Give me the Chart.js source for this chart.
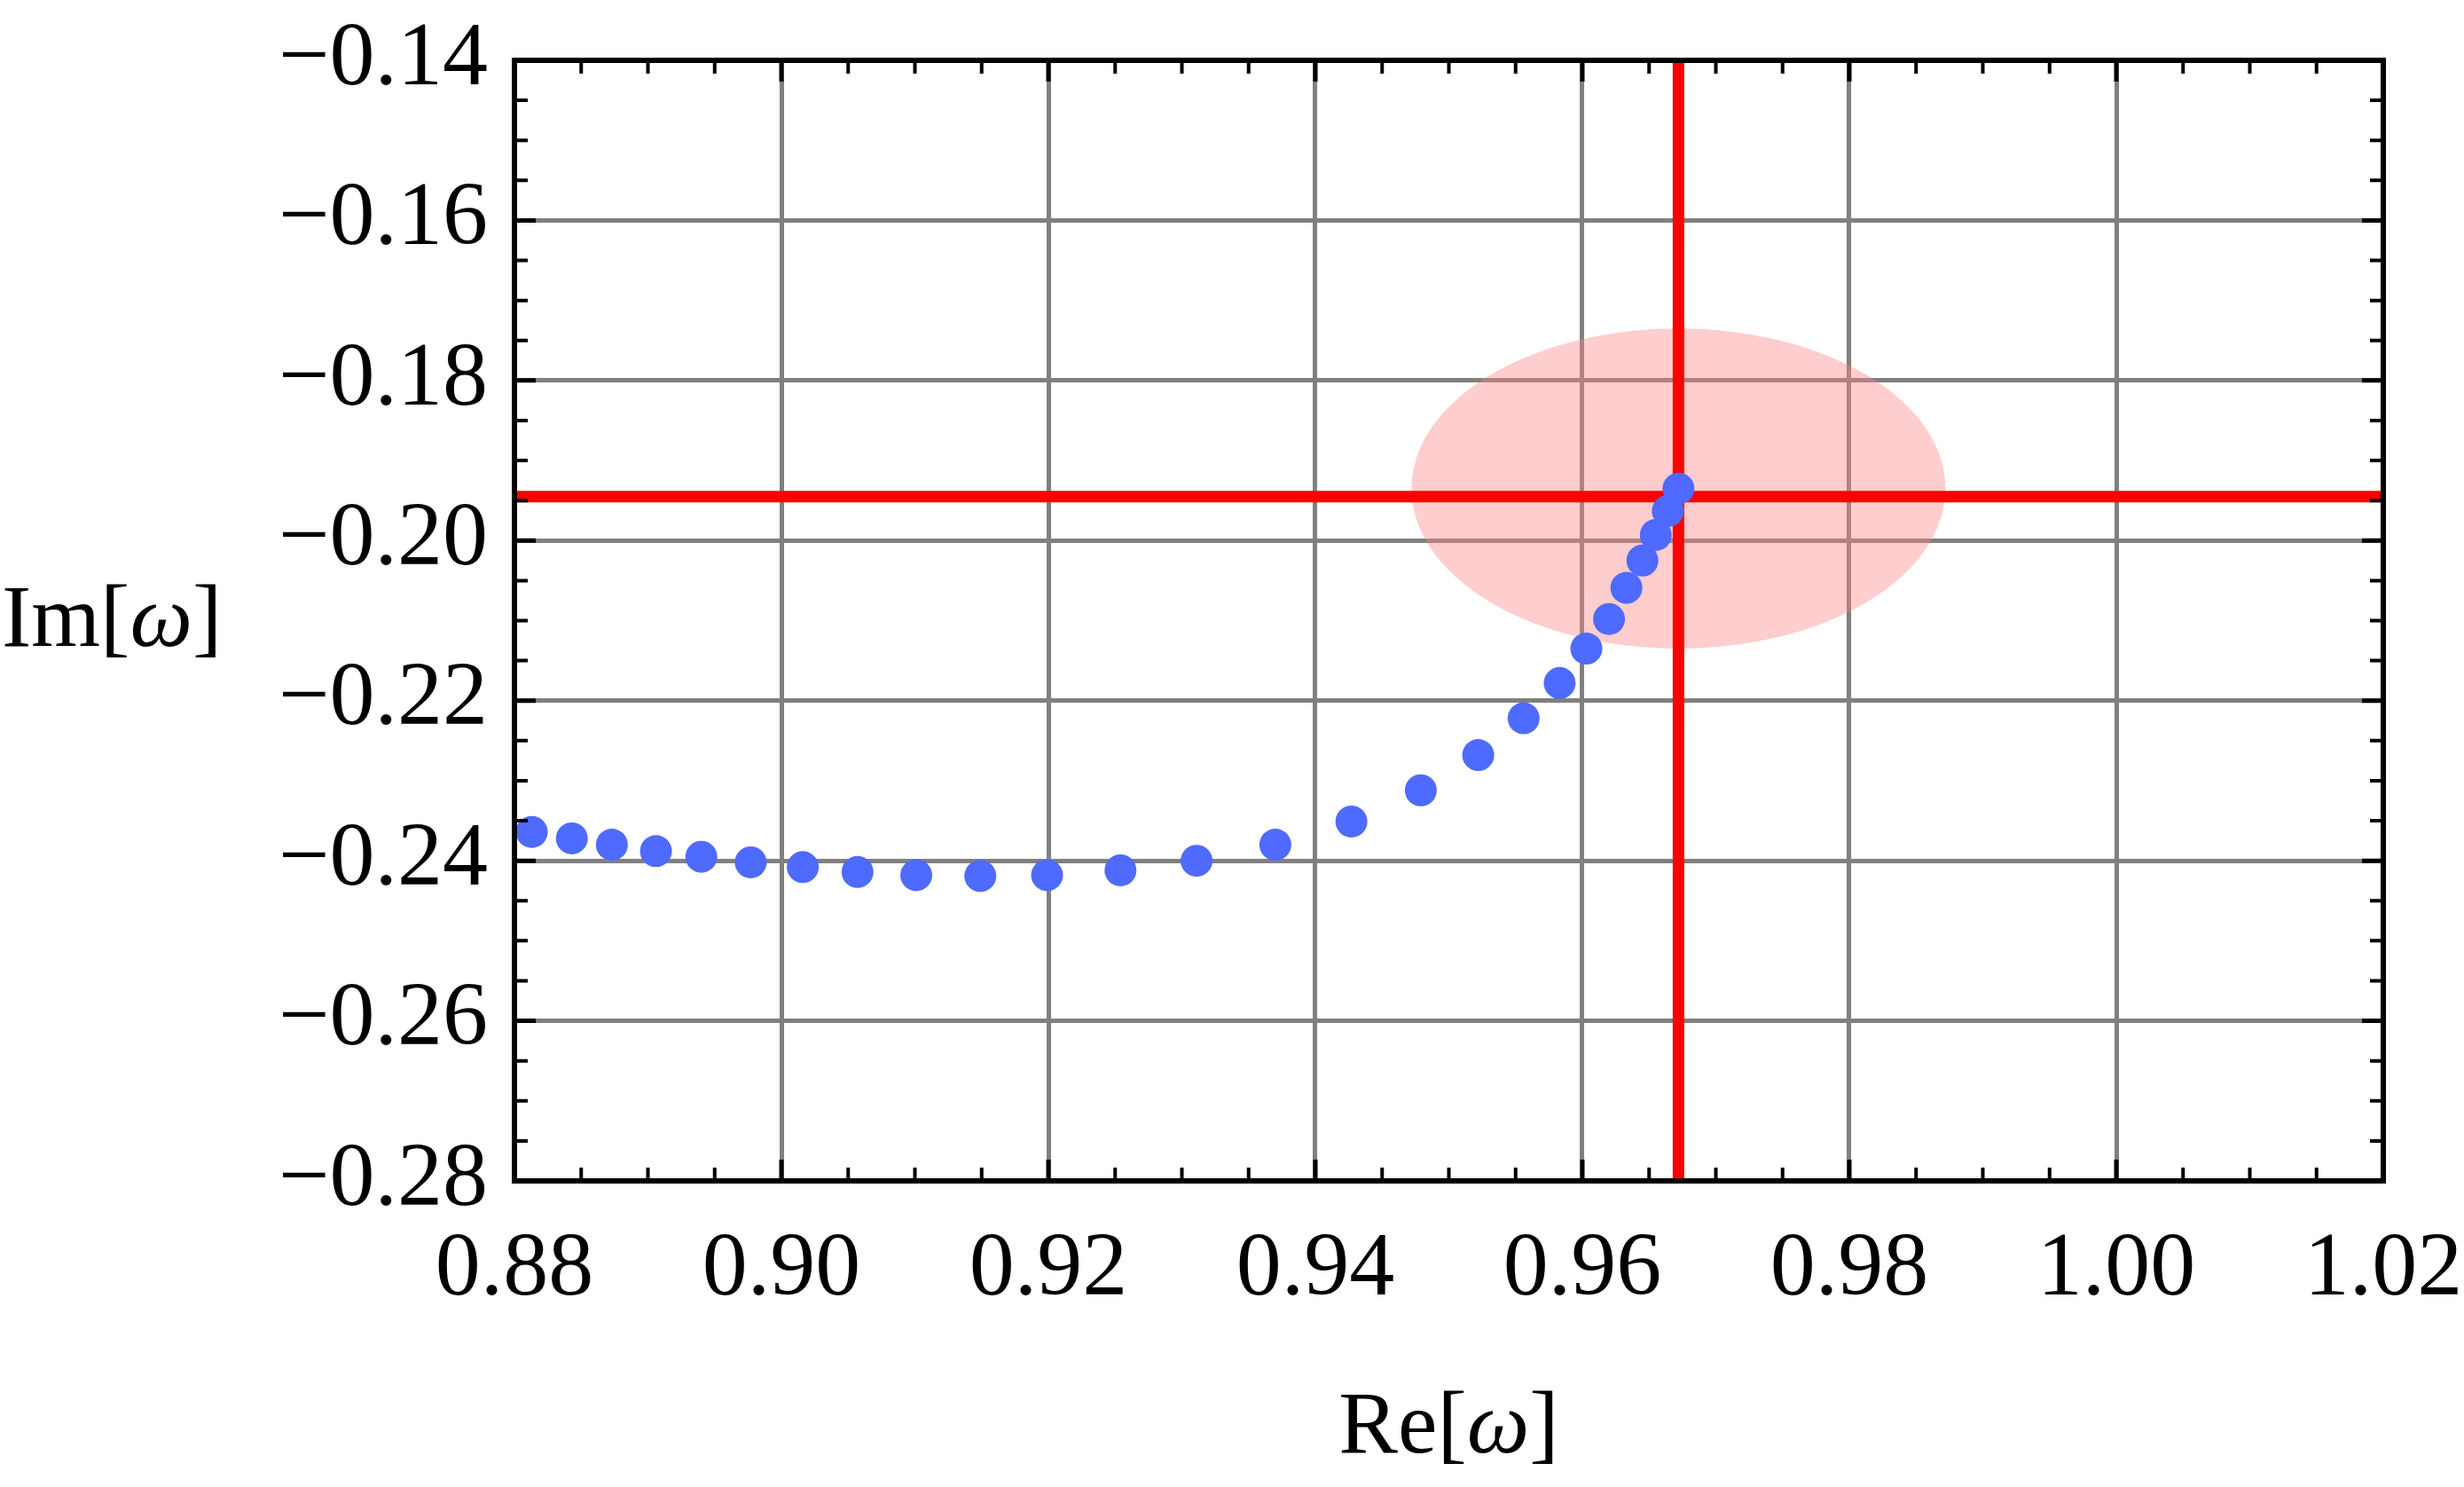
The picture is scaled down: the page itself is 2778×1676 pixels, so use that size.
<!DOCTYPE html>
<html>
<head>
<meta charset="utf-8">
<script src="https://cdn.jsdelivr.net/npm/chart.js@4.4.1/dist/chart.umd.min.js"></script>
<style>
  html, body { margin: 0; padding: 0; background: #fff; }
  canvas { display: block; }
</style>
</head>
<body>
<canvas id="qnmChart" width="2778" height="1676"></canvas>
<script>
// Re / Im of the frequency
const reOmega = [0.8813, 0.8843, 0.8873, 0.8906, 0.8940, 0.8977, 0.9016, 0.9057, 0.9101, 0.9149,
                 0.9199, 0.9254, 0.9311, 0.9370, 0.9427, 0.9479, 0.9522, 0.9556, 0.9583, 0.9603,
                 0.9620, 0.9633, 0.9645, 0.9655, 0.9664, 0.9672];
const imOmega = [-0.2364, -0.2372, -0.2380, -0.2388, -0.2395, -0.2402, -0.2408, -0.2414, -0.2418, -0.2419,
                 -0.2418, -0.2412, -0.2400, -0.2380, -0.2351, -0.2312, -0.2268, -0.2222, -0.2178, -0.2135,
                 -0.2098, -0.2059, -0.2025, -0.1993, -0.1963, -0.1935];

// crosshair and shaded region
const crossRe = 0.9672;
const crossIm = -0.1945;
const regionCenter = [0.9672, -0.1935];
const regionRadius = [0.02, 0.02];

const xTicks = [0.88, 0.90, 0.92, 0.94, 0.96, 0.98, 1.00, 1.02];
const yTicks = [-0.28, -0.26, -0.24, -0.22, -0.20, -0.18, -0.16, -0.14];
const minorStep = 0.005;

const FONT = '"Liberation Serif", "DejaVu Serif", serif';

const regionPlugin = {
    id: 'region',
    beforeDatasetsDraw(chart) {
        const { ctx, scales: { x, y } } = chart;
        const cx = x.getPixelForValue(regionCenter[0]);
        const cy = y.getPixelForValue(regionCenter[1]);
        const rx = Math.abs(x.getPixelForValue(regionCenter[0] + regionRadius[0]) - cx);
        const ry = Math.abs(y.getPixelForValue(regionCenter[1] + regionRadius[1]) - cy);
        ctx.save();
        ctx.fillStyle = 'rgba(252, 130, 130, 0.4)';
        ctx.beginPath();
        ctx.ellipse(cx, cy, rx, ry, 0, 0, Math.PI * 2);
        ctx.fill();
        ctx.restore();
    }
};

function drawTitle(ctx, parts, x, y, align) {
    // parts: [text, italic]
    ctx.save();
    ctx.textBaseline = 'alphabetic';
    ctx.fillStyle = '#000';
    let total = 0;
    parts.forEach(p => {
        ctx.font = (p[1] ? 'italic ' : '') + '100px ' + FONT;
        total += ctx.measureText(p[0]).width;
    });
    let cur = align === 'center' ? x - total / 2 : x;
    parts.forEach(p => {
        ctx.font = (p[1] ? 'italic ' : '') + '100px ' + FONT;
        ctx.textAlign = 'left';
        ctx.fillText(p[0], cur, y);
        cur += ctx.measureText(p[0]).width;
    });
    ctx.restore();
}

const framePlugin = {
    id: 'frame',
    afterDraw(chart) {
        const { ctx, chartArea: a, scales: { x, y } } = chart;
        ctx.save();
        ctx.strokeStyle = '#000';
        ctx.lineCap = 'butt';

        // inward ticks on all four sides
        const nX = Math.round((x.max - x.min) / minorStep);
        for (let i = 0; i <= nX; i++) {
            const v = x.min + i * minorStep;
            const px = x.getPixelForValue(v);
            const major = i % 4 === 0;
            const len = major ? 24 : 15;
            ctx.lineWidth = major ? 5 : 4;
            ctx.beginPath();
            ctx.moveTo(px, a.bottom); ctx.lineTo(px, a.bottom - len);
            ctx.moveTo(px, a.top); ctx.lineTo(px, a.top + len);
            ctx.stroke();
        }
        const nY = Math.round((y.max - y.min) / minorStep);
        for (let i = 0; i <= nY; i++) {
            const v = y.min + i * minorStep;
            const py = y.getPixelForValue(v);
            const major = i % 4 === 0;
            const len = major ? 24 : 15;
            ctx.lineWidth = major ? 5 : 4;
            ctx.beginPath();
            ctx.moveTo(a.left, py); ctx.lineTo(a.left + len, py);
            ctx.moveTo(a.right, py); ctx.lineTo(a.right - len, py);
            ctx.stroke();
        }

        ctx.lineWidth = 6;
        ctx.strokeRect(a.left, a.top, a.right - a.left, a.bottom - a.top);
        ctx.restore();

        // axis titles
        drawTitle(ctx, [['Re[', false], ['ω', true], [']', false]], (a.left + a.right) / 2, 1637, 'center');
        drawTitle(ctx, [['Im[', false], ['ω', true], [']', false]], 2, 728, 'left');
    }
};

const ctx = document.getElementById('qnmChart').getContext('2d');

new Chart(ctx, {
    type: 'scatter',
    data: {
        datasets: [
            {
                label: 'modes',
                data: reOmega.map((re, i) => ({ x: re, y: imOmega[i] })),
                backgroundColor: 'rgb(79, 106, 255)',
                borderWidth: 0,
                pointRadius: 18,
                pointHoverRadius: 18,
                order: 0
            },
            {
                label: 'Im cross',
                data: [{ x: xTicks[0], y: crossIm }, { x: xTicks[xTicks.length - 1], y: crossIm }],
                showLine: true,
                borderColor: '#ff0000',
                borderWidth: 13,
                pointRadius: 0,
                order: 1
            },
            {
                label: 'Re cross',
                data: [{ x: crossRe, y: yTicks[0] }, { x: crossRe, y: yTicks[yTicks.length - 1] }],
                showLine: true,
                borderColor: '#ff0000',
                borderWidth: 13,
                pointRadius: 0,
                order: 1
            }
        ]
    },
    options: {
        responsive: false,
        devicePixelRatio: 1,
        animation: false,
        layout: { padding: { top: 68, right: 91, left: 0, bottom: 0 } },
        plugins: {
            legend: { display: false },
            tooltip: { enabled: false }
        },
        scales: {
            x: {
                type: 'linear',
                min: xTicks[0],
                max: xTicks[xTicks.length - 1],
                afterBuildTicks: s => { s.ticks = xTicks.map(v => ({ value: v })); },
                afterFit: s => { s.height = 345; s.paddingLeft = 0; s.paddingRight = 0; },
                grid: { color: '#808080', lineWidth: 5, drawTicks: false },
                border: { display: false },
                ticks: {
                    color: '#000',
                    font: { family: FONT, size: 102 },
                    padding: 40,
                    maxRotation: 0,
                    autoSkip: false,
                    callback: v => v.toFixed(2)
                }
            },
            y: {
                type: 'linear',
                min: yTicks[0],
                max: yTicks[yTicks.length - 1],
                afterBuildTicks: s => { s.ticks = yTicks.map(v => ({ value: v })); },
                afterFit: s => { s.width = 580; s.paddingTop = 0; s.paddingBottom = 0; },
                grid: { color: '#808080', lineWidth: 5, drawTicks: false },
                border: { display: false },
                ticks: {
                    color: '#000',
                    font: { family: FONT, size: 102 },
                    padding: 30,
                    autoSkip: false,
                    callback: v => '\u2212' + Math.abs(v).toFixed(2)
                }
            }
        }
    },
    plugins: [regionPlugin, framePlugin]
});
</script>
</body>
</html>
